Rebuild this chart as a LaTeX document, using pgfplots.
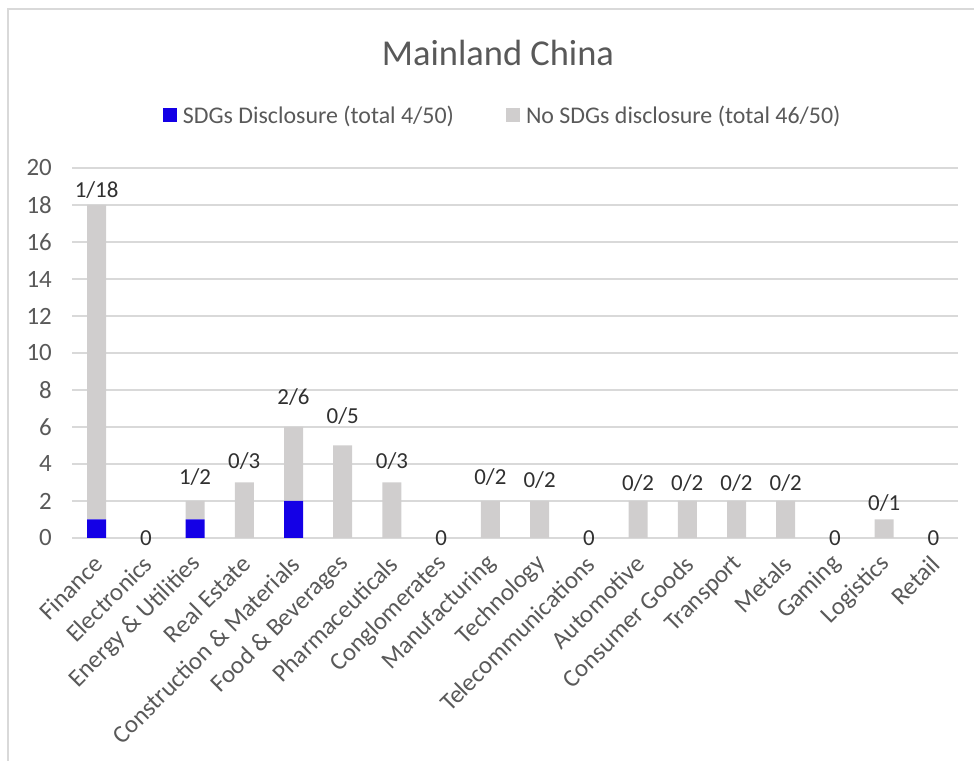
\documentclass[border=0pt]{standalone}
\usepackage{fontspec}
\setmainfont{Carlito}
\usepackage{pgfplots}
\usepackage{pgfplotstable}
\pgfplotsset{compat=1.18}

\definecolor{sdgblue}{HTML}{1400E6}
\definecolor{nosdggray}{HTML}{D0CECE}
\definecolor{gridgray}{HTML}{D9D9D9}
\definecolor{labelgray}{HTML}{595959}
\definecolor{valuegray}{HTML}{303030}

% x: category index, sdg: companies with SDGs disclosure,
% nosdg: companies without, total: all companies,
% lab: data label, dy: label lift above the bar top (bp)
\pgfplotstableread{
x sdg nosdg total lab dy
0  1 17 18 1/18 15
1  0 0  0  0    0
2  1 1  2  1/2  24
3  0 3  3  0/3  21.5
4  2 4  6  2/6  30
5  0 5  5  0/5  29.5
6  0 3  3  0/3  21.5
7  0 0  0  0    0
8  0 2  2  0/2  24
9  0 2  2  0/2  21
10 0 0  0  0    0
11 0 2  2  0/2  18
12 0 2  2  0/2  18
13 0 2  2  0/2  18
14 0 2  2  0/2  18
15 0 0  0  0    0
16 0 1  1  0/1  16.5
17 0 0  0  0    0
}\sectors

\newcommand{\ticksize}{\fontsize{25}{30}\selectfont}
\newcommand{\legendsize}{\fontsize{24}{28}\selectfont}
\newcommand{\valuesize}{\fontsize{23}{27}\selectfont}

\pgfplotsset{
  sectorframe/.style={
    at={(72bp,223bp)}, anchor=south west,
    width=886bp, height=370bp, scale only axis,
    xmin=-0.5, xmax=17.5, ymin=0, ymax=20,
  },
}

\begin{document}
\begin{tikzpicture}
\useasboundingbox (0bp,0bp) rectangle (974bp,761bp);
% chart area frame
\draw[gridgray, line width=2bp] (8bp,0bp) -- (8bp,752bp) -- (974bp,752bp);
% title
\node[text=labelgray, font=\fontsize{36.6}{42}\selectfont] at (498bp,708bp) {Mainland China};

\begin{axis}[
  sectorframe,
  ybar stacked, bar width=19bp,
  xtick={0,...,17},
  xticklabels={Finance, Electronics, Energy \& Utilities, Real Estate,
    Construction \& Materials, Food \& Beverages, Pharmaceuticals,
    Conglomerates, Manufacturing, Technology, Telecommunications,
    Automotive, Consumer Goods, Transport, Metals, Gaming, Logistics, Retail},
  ytick={0,2,...,20},
  /pgf/number format/assume math mode=true,
  axis line style={draw=none},
  major tick length=0pt,
  ymajorgrids,
  grid style={gridgray, line width=2bp},
  yticklabel style={font=\ticksize, text=labelgray, anchor=east, inner sep=0pt, xshift=-20bp},
  xticklabel style={font=\ticksize, text=labelgray, inner sep=0pt,
    xshift=2bp, yshift=-22bp, rotate=45, anchor=east},
  legend columns=2,
  legend style={at={(0.485,1.143)}, anchor=center, draw=none, fill=none,
    font=\legendsize, text=labelgray, inner sep=0pt,
    nodes={inner sep=0pt},
    /tikz/every even column/.append style={column sep=52bp}},
  legend image code/.code={\fill[#1] (0bp,-7bp) rectangle (14bp,7bp); \path (20bp,0bp);},
]
\addplot[fill=sdgblue, draw=none] table[x=x, y=sdg] {\sectors};
\addlegendentry{SDGs Disclosure (total 4/50)}
\addplot[fill=nosdggray, draw=none] table[x=x, y=nosdg] {\sectors};
\addlegendentry{No SDGs disclosure (total 46/50)}
\end{axis}

% data labels above each bar: disclosing / total
\begin{axis}[
  sectorframe,
  hide axis,
]
\addplot[only marks, mark=*, mark options={opacity=0},
  point meta=explicit symbolic,
  visualization depends on={\thisrow{dy} \as \labellift},
  nodes near coords,
  every node near coord/.append style={anchor=center, yshift=\labellift bp,
    font=\valuesize, text=valuegray, inner sep=0pt, opacity=1},
] table[x=x, y=total, meta=lab] {\sectors};
\end{axis}
\end{tikzpicture}
\end{document}
